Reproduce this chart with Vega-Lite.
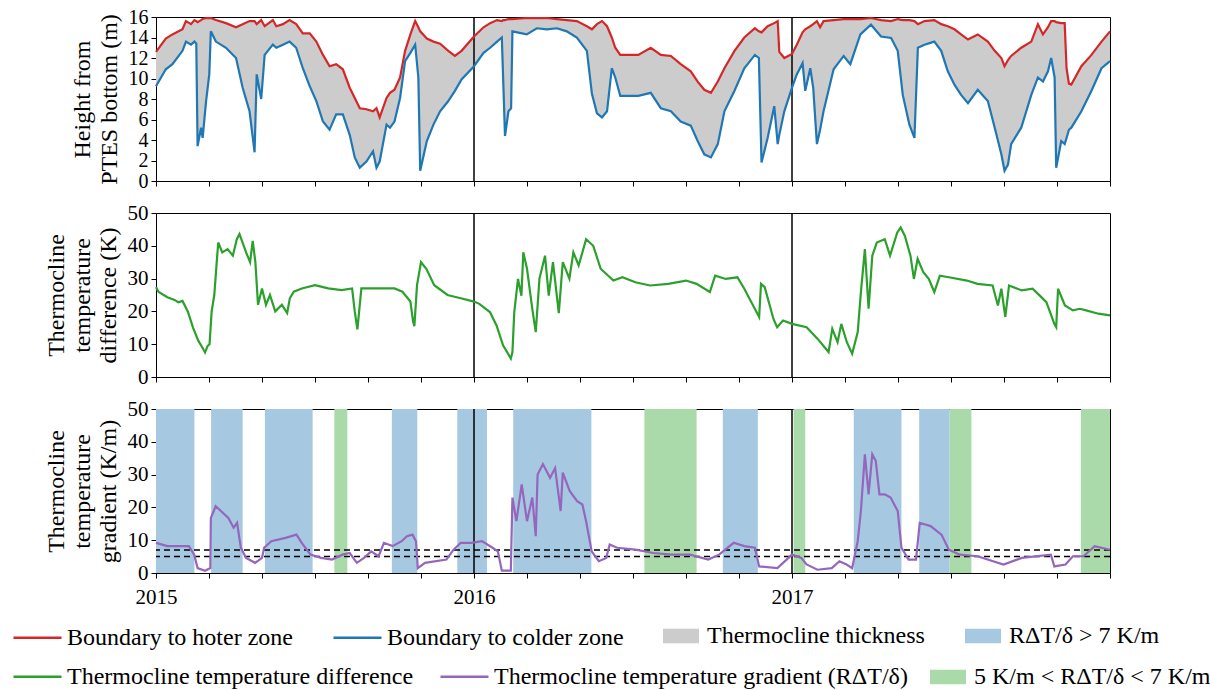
{
  "$schema": "https://vega.github.io/schema/vega-lite/v6.json",
  "background": "white",
  "padding": {"left": 12, "top": 6, "right": 4, "bottom": 0},
  "bounds": "flush",
  "spacing": 32,
  "config": {
    "font": "Liberation Serif",
    "text": {"font": "Liberation Serif"},
    "view": {"stroke": "black", "strokeWidth": 1},
    "axis": {"grid": false, "domainColor": "black", "tickColor": "black", "labelColor": "black", "titleColor": "black", "labelFont": "Liberation Serif", "titleFont": "Liberation Serif", "labelFontSize": 21, "titleFontSize": 24, "titleFontWeight": "normal", "tickSize": 5, "domainWidth": 1, "tickWidth": 1, "zindex": 1, "labelOverlap": false},
    "legend": {"title": null, "orient": "none", "direction": "horizontal", "labelFont": "Liberation Serif", "labelFontSize": 24, "labelColor": "black", "labelLimit": 600, "labelOffset": 8, "columnPadding": 40, "titleFont": "Liberation Serif"}
  },
  "datasets": {
    "thermocline": [
      {"month":0,"hot":12.6,"cold":9.25},{"month":0.37,"hot":13.9,"cold":10.9},{"month":0.62,"hot":14.3,"cold":11.4},{"month":1.0,"hot":14.8,"cold":12.7},{"month":1.13,"hot":15.6,"cold":13.6},{"month":1.32,"hot":15.3,"cold":13.3},{"month":1.45,"hot":15.7,"cold":13.6},{"month":1.52,"hot":15.6,"cold":13.4},{"month":1.57,"hot":15.5,"cold":3.4},{"month":1.7,"hot":15.7,"cold":5.2},{"month":1.76,"hot":15.8,"cold":4.2},{"month":1.89,"hot":15.9,"cold":7.8},{"month":2.01,"hot":15.9,"cold":10.4},{"month":2.07,"hot":15.9,"cold":14.6},{"month":2.26,"hot":15.7,"cold":13.6},{"month":2.64,"hot":15.4,"cold":13.0},{"month":3.02,"hot":15.0,"cold":12.0},{"month":3.27,"hot":15.3,"cold":9.1},{"month":3.53,"hot":15.6,"cold":6.8},{"month":3.72,"hot":15.6,"cold":2.8},{"month":3.8,"hot":15.3,"cold":10.4},{"month":3.97,"hot":15.7,"cold":8.0},{"month":4.1,"hot":15.1,"cold":12.3},{"month":4.41,"hot":15.7,"cold":13.3},{"month":4.54,"hot":15.1,"cold":13.0},{"month":4.79,"hot":15.3,"cold":13.3},{"month":5.04,"hot":15.7,"cold":13.6},{"month":5.29,"hot":15.3,"cold":13.0},{"month":5.54,"hot":14.4,"cold":11.0},{"month":5.8,"hot":14.4,"cold":9.25},{"month":6.05,"hot":13.6,"cold":7.8},{"month":6.3,"hot":12.3,"cold":5.8},{"month":6.55,"hot":11.2,"cold":5.0},{"month":6.8,"hot":11.4,"cold":6.5},{"month":7.05,"hot":10.9,"cold":6.5},{"month":7.31,"hot":9.1,"cold":4.5},{"month":7.5,"hot":8.1,"cold":2.3},{"month":7.69,"hot":7.1,"cold":1.3},{"month":7.94,"hot":7.0,"cold":1.9},{"month":8.19,"hot":6.8,"cold":2.9},{"month":8.32,"hot":7.1,"cold":1.3},{"month":8.44,"hot":6.2,"cold":1.9},{"month":8.7,"hot":8.1,"cold":5.5},{"month":8.83,"hot":8.6,"cold":5.2},{"month":9.0,"hot":8.9,"cold":5.8},{"month":9.21,"hot":10.1,"cold":8.1},{"month":9.4,"hot":12.7,"cold":11.7},{"month":9.6,"hot":14.3,"cold":12.5},{"month":9.78,"hot":15.6,"cold":13.3},{"month":9.9,"hot":15.0,"cold":10.1},{"month":9.97,"hot":14.6,"cold":1.0},{"month":10.22,"hot":13.9,"cold":3.9},{"month":10.47,"hot":13.6,"cold":5.5},{"month":10.72,"hot":13.4,"cold":6.8},{"month":11.03,"hot":12.7,"cold":7.8},{"month":11.28,"hot":12.2,"cold":8.8},{"month":11.53,"hot":12.7,"cold":9.9},{"month":12.0,"hot":14.1,"cold":11.2},{"month":12.36,"hot":15.0,"cold":12.5},{"month":12.61,"hot":15.4,"cold":13.0},{"month":12.87,"hot":15.7,"cold":13.6},{"month":13.05,"hot":15.6,"cold":14.0},{"month":13.1,"hot":15.7,"cold":10.0},{"month":13.17,"hot":15.7,"cold":4.4},{"month":13.3,"hot":15.8,"cold":6.8},{"month":13.4,"hot":15.8,"cold":7.1},{"month":13.45,"hot":15.8,"cold":14.6},{"month":13.99,"hot":15.9,"cold":14.3},{"month":14.37,"hot":15.9,"cold":14.9},{"month":14.75,"hot":15.9,"cold":14.8},{"month":15.13,"hot":15.8,"cold":14.9},{"month":15.5,"hot":15.7,"cold":14.6},{"month":15.88,"hot":15.6,"cold":14.0},{"month":16.26,"hot":15.1,"cold":12.7},{"month":16.45,"hot":14.8,"cold":8.5},{"month":16.64,"hot":15.3,"cold":6.6},{"month":16.83,"hot":15.6,"cold":6.2},{"month":17.02,"hot":15.1,"cold":6.8},{"month":17.2,"hot":14.0,"cold":11.0},{"month":17.33,"hot":13.0,"cold":10.1},{"month":17.52,"hot":12.3,"cold":8.3},{"month":18.2,"hot":12.3,"cold":8.3},{"month":18.67,"hot":13.0,"cold":8.6},{"month":19.05,"hot":12.3,"cold":7.1},{"month":19.43,"hot":12.2,"cold":6.8},{"month":19.8,"hot":11.4,"cold":5.8},{"month":20.18,"hot":10.7,"cold":5.4},{"month":20.44,"hot":9.7,"cold":3.9},{"month":20.69,"hot":8.9,"cold":2.6},{"month":20.94,"hot":8.6,"cold":2.3},{"month":21.2,"hot":9.7,"cold":3.6},{"month":21.45,"hot":11.0,"cold":6.8},{"month":21.83,"hot":12.7,"cold":8.8},{"month":22.2,"hot":14.0,"cold":11.0},{"month":22.6,"hot":14.9,"cold":12.3},{"month":22.75,"hot":14.6,"cold":12.0},{"month":22.85,"hot":14.5,"cold":1.8},{"month":23.08,"hot":15.1,"cold":4.2},{"month":23.33,"hot":15.4,"cold":7.3},{"month":23.46,"hot":15.6,"cold":3.6},{"month":23.52,"hot":12.6,"cold":4.5},{"month":23.71,"hot":12.0,"cold":6.8},{"month":24.0,"hot":12.4,"cold":9.1},{"month":24.18,"hot":13.3,"cold":10.4},{"month":24.4,"hot":14.5,"cold":11.5},{"month":24.5,"hot":14.8,"cold":8.8},{"month":24.69,"hot":15.1,"cold":11.0},{"month":24.8,"hot":15.3,"cold":9.1},{"month":24.94,"hot":15.6,"cold":3.6},{"month":25.06,"hot":15.0,"cold":5.0},{"month":25.19,"hot":15.6,"cold":6.8},{"month":25.57,"hot":15.7,"cold":10.9},{"month":25.95,"hot":15.8,"cold":12.2},{"month":26.2,"hot":15.8,"cold":11.4},{"month":26.58,"hot":15.8,"cold":14.3},{"month":26.98,"hot":15.9,"cold":15.25},{"month":27.36,"hot":15.7,"cold":14.1},{"month":27.74,"hot":15.6,"cold":13.95},{"month":27.99,"hot":15.8,"cold":12.7},{"month":28.18,"hot":15.7,"cold":8.4},{"month":28.43,"hot":15.7,"cold":5.5},{"month":28.62,"hot":15.6,"cold":4.2},{"month":28.75,"hot":15.3,"cold":13.0},{"month":29.0,"hot":15.6,"cold":13.3},{"month":29.37,"hot":15.7,"cold":13.6},{"month":29.63,"hot":15.3,"cold":12.7},{"month":29.88,"hot":15.1,"cold":10.7},{"month":30.13,"hot":14.8,"cold":9.4},{"month":30.38,"hot":14.3,"cold":8.4},{"month":30.64,"hot":13.8,"cold":7.6},{"month":31.01,"hot":14.3,"cold":8.9},{"month":31.39,"hot":13.6,"cold":7.8},{"month":31.65,"hot":12.7,"cold":5.2},{"month":31.9,"hot":12.0,"cold":2.6},{"month":32.02,"hot":11.2,"cold":1.0},{"month":32.15,"hot":11.8,"cold":1.6},{"month":32.27,"hot":12.2,"cold":3.6},{"month":32.65,"hot":13.0,"cold":5.2},{"month":33.03,"hot":13.6,"cold":8.4},{"month":33.28,"hot":15.3,"cold":10.1},{"month":33.47,"hot":14.3,"cold":9.7},{"month":33.66,"hot":15.0,"cold":10.7},{"month":33.78,"hot":15.6,"cold":12.0},{"month":33.91,"hot":15.6,"cold":10.1},{"month":33.97,"hot":15.5,"cold":1.3},{"month":34.16,"hot":15.4,"cold":3.9},{"month":34.29,"hot":15.4,"cold":3.6},{"month":34.36,"hot":11.0,"cold":4.2},{"month":34.45,"hot":9.5,"cold":5.0},{"month":34.54,"hot":9.4,"cold":5.2},{"month":34.92,"hot":11.2,"cold":6.8},{"month":35.3,"hot":12.3,"cold":8.8},{"month":35.68,"hot":13.6,"cold":11.0},{"month":36.0,"hot":14.6,"cold":11.7}
    ],
    "difference": [
      {"month":0,"diff":27.4},{"month":0.1,"diff":25.9},{"month":0.43,"diff":24.3},{"month":0.7,"diff":23.5},{"month":0.84,"diff":22.8},{"month":1.0,"diff":23.2},{"month":1.2,"diff":20},{"month":1.4,"diff":15},{"month":1.6,"diff":11},{"month":1.75,"diff":9},{"month":1.85,"diff":7.5},{"month":1.95,"diff":9.5},{"month":2.02,"diff":10},{"month":2.1,"diff":20},{"month":2.2,"diff":25},{"month":2.3,"diff":36},{"month":2.35,"diff":41},{"month":2.5,"diff":38},{"month":2.7,"diff":39},{"month":2.9,"diff":37},{"month":3.05,"diff":42},{"month":3.15,"diff":43.6},{"month":3.4,"diff":38},{"month":3.55,"diff":35},{"month":3.65,"diff":41.5},{"month":3.75,"diff":35},{"month":3.85,"diff":22},{"month":4.0,"diff":27},{"month":4.15,"diff":22},{"month":4.3,"diff":25},{"month":4.5,"diff":20},{"month":4.75,"diff":22},{"month":4.95,"diff":19.5},{"month":5.05,"diff":24},{"month":5.2,"diff":26},{"month":5.5,"diff":27},{"month":6.0,"diff":28},{"month":6.5,"diff":27},{"month":7.0,"diff":26.5},{"month":7.4,"diff":27},{"month":7.5,"diff":20},{"month":7.6,"diff":14.5},{"month":7.75,"diff":27},{"month":8.25,"diff":27},{"month":9.0,"diff":27},{"month":9.3,"diff":26},{"month":9.6,"diff":23},{"month":9.7,"diff":17},{"month":9.75,"diff":15.5},{"month":9.85,"diff":28},{"month":10.0,"diff":35},{"month":10.2,"diff":33},{"month":10.5,"diff":28},{"month":11.0,"diff":25},{"month":11.5,"diff":24},{"month":12.0,"diff":23},{"month":12.2,"diff":22.3},{"month":12.6,"diff":19.8},{"month":12.85,"diff":15.7},{"month":13.1,"diff":9.6},{"month":13.25,"diff":7.6},{"month":13.39,"diff":5.6},{"month":13.45,"diff":7.6},{"month":13.52,"diff":19.8},{"month":13.66,"diff":29.9},{"month":13.79,"diff":24.8},{"month":13.86,"diff":38},{"month":14.0,"diff":33},{"month":14.2,"diff":20.8},{"month":14.33,"diff":13.7},{"month":14.47,"diff":30},{"month":14.68,"diff":37},{"month":14.82,"diff":24.8},{"month":14.98,"diff":35},{"month":15.2,"diff":19.5},{"month":15.35,"diff":35},{"month":15.6,"diff":30},{"month":15.75,"diff":38},{"month":15.95,"diff":34},{"month":16.23,"diff":42},{"month":16.5,"diff":40},{"month":16.78,"diff":33},{"month":17.26,"diff":29.4},{"month":17.6,"diff":30.4},{"month":18.09,"diff":28.9},{"month":18.64,"diff":27.9},{"month":19.33,"diff":28.4},{"month":20.0,"diff":29.4},{"month":20.4,"diff":28.4},{"month":20.9,"diff":25.9},{"month":21.1,"diff":30.9},{"month":21.5,"diff":29.9},{"month":21.94,"diff":30.4},{"month":22.2,"diff":26.9},{"month":22.76,"diff":18.3},{"month":22.83,"diff":28.4},{"month":22.97,"diff":27.4},{"month":23.3,"diff":17.7},{"month":23.44,"diff":15.2},{"month":23.66,"diff":17.2},{"month":24.0,"diff":16.2},{"month":24.55,"diff":15.2},{"month":24.96,"diff":11.7},{"month":25.38,"diff":7.6},{"month":25.52,"diff":14.7},{"month":25.72,"diff":10.6},{"month":25.86,"diff":16.2},{"month":26.07,"diff":10.6},{"month":26.27,"diff":7.1},{"month":26.48,"diff":13.7},{"month":26.6,"diff":25.9},{"month":26.75,"diff":39},{"month":26.89,"diff":20.8},{"month":27.03,"diff":37},{"month":27.2,"diff":41},{"month":27.5,"diff":42},{"month":27.7,"diff":37},{"month":27.97,"diff":44},{"month":28.1,"diff":45.6},{"month":28.26,"diff":43},{"month":28.47,"diff":37},{"month":28.6,"diff":29.9},{"month":28.74,"diff":36},{"month":28.95,"diff":32},{"month":29.16,"diff":29.9},{"month":29.37,"diff":25.9},{"month":29.58,"diff":30.9},{"month":29.92,"diff":30.4},{"month":30.6,"diff":29.4},{"month":31.0,"diff":28.4},{"month":31.57,"diff":27.9},{"month":31.77,"diff":21.8},{"month":31.9,"diff":26.9},{"month":32.05,"diff":18.3},{"month":32.19,"diff":27.9},{"month":32.67,"diff":26.4},{"month":33.08,"diff":26.9},{"month":33.35,"diff":24.8},{"month":33.6,"diff":22.8},{"month":33.9,"diff":16.2},{"month":33.97,"diff":15.2},{"month":34.04,"diff":26.9},{"month":34.3,"diff":21.8},{"month":34.6,"diff":20.3},{"month":34.86,"diff":20.8},{"month":35.1,"diff":20.3},{"month":35.56,"diff":19.3},{"month":36.0,"diff":18.8}
    ],
    "gradient": [
      {"month":0,"grad":9.2},{"month":0.43,"grad":8.2},{"month":0.84,"grad":8.2},{"month":1.24,"grad":8.2},{"month":1.44,"grad":5.6},{"month":1.57,"grad":1.5},{"month":1.85,"grad":0.7},{"month":2.05,"grad":1.5},{"month":2.07,"grad":16.8},{"month":2.18,"grad":18.9},{"month":2.25,"grad":20.4},{"month":2.45,"grad":18.9},{"month":2.73,"grad":16.8},{"month":2.93,"grad":13.8},{"month":3.06,"grad":15.3},{"month":3.2,"grad":7.7},{"month":3.4,"grad":4.6},{"month":3.74,"grad":3.1},{"month":4.0,"grad":4.6},{"month":4.08,"grad":7.7},{"month":4.35,"grad":9.7},{"month":4.89,"grad":10.7},{"month":5.3,"grad":11.7},{"month":5.5,"grad":9.2},{"month":5.83,"grad":5.6},{"month":6.23,"grad":4.6},{"month":6.64,"grad":4.1},{"month":7.04,"grad":5.6},{"month":7.31,"grad":6.1},{"month":7.58,"grad":3.1},{"month":7.85,"grad":4.6},{"month":8.12,"grad":6.6},{"month":8.4,"grad":5.1},{"month":8.6,"grad":9.2},{"month":8.93,"grad":8.2},{"month":9.27,"grad":9.7},{"month":9.47,"grad":11.2},{"month":9.68,"grad":11.7},{"month":9.81,"grad":9.7},{"month":9.88,"grad":1.5},{"month":10.15,"grad":3.1},{"month":10.96,"grad":4.1},{"month":11.23,"grad":7.1},{"month":11.5,"grad":9.2},{"month":11.9,"grad":9.2},{"month":12.3,"grad":9.7},{"month":12.7,"grad":7.7},{"month":12.9,"grad":6.6},{"month":13.05,"grad":0.7},{"month":13.39,"grad":0.7},{"month":13.45,"grad":23},{"month":13.6,"grad":15.8},{"month":13.8,"grad":27},{"month":14.0,"grad":15.8},{"month":14.2,"grad":23},{"month":14.33,"grad":11.2},{"month":14.4,"grad":30},{"month":14.6,"grad":33.2},{"month":14.87,"grad":29},{"month":15.06,"grad":32},{"month":15.27,"grad":18.9},{"month":15.35,"grad":30.6},{"month":15.61,"grad":25},{"month":15.89,"grad":21.9},{"month":16.09,"grad":20.9},{"month":16.23,"grad":15.8},{"month":16.44,"grad":6.6},{"month":16.71,"grad":3.6},{"month":16.99,"grad":4.6},{"month":17.12,"grad":8.7},{"month":17.4,"grad":7.7},{"month":18.09,"grad":7.1},{"month":18.77,"grad":6.1},{"month":19.46,"grad":5.6},{"month":20.15,"grad":5.6},{"month":20.84,"grad":4.1},{"month":21.25,"grad":5.6},{"month":21.8,"grad":9.2},{"month":22.2,"grad":8.2},{"month":22.6,"grad":7.7},{"month":22.76,"grad":2.0},{"month":23.45,"grad":1.5},{"month":24.0,"grad":5.6},{"month":24.35,"grad":4.6},{"month":24.55,"grad":2.6},{"month":24.96,"grad":1.0},{"month":25.5,"grad":1.5},{"month":25.79,"grad":3.6},{"month":26.06,"grad":2.6},{"month":26.27,"grad":1.5},{"month":26.48,"grad":9.7},{"month":26.6,"grad":18.9},{"month":26.75,"grad":36.2},{"month":26.89,"grad":24},{"month":27.03,"grad":36.2},{"month":27.16,"grad":34.2},{"month":27.3,"grad":24},{"month":27.5,"grad":24},{"month":27.72,"grad":23},{"month":27.99,"grad":18.9},{"month":28.13,"grad":7.7},{"month":28.4,"grad":4.1},{"month":28.68,"grad":4.1},{"month":28.82,"grad":15.3},{"month":29.23,"grad":14.3},{"month":29.64,"grad":11.7},{"month":29.92,"grad":7.1},{"month":30.33,"grad":5.6},{"month":31.0,"grad":5.1},{"month":31.98,"grad":2.6},{"month":32.67,"grad":4.6},{"month":33.77,"grad":5.6},{"month":33.9,"grad":2.0},{"month":34.32,"grad":2.6},{"month":34.6,"grad":5.1},{"month":35.0,"grad":5.1},{"month":35.42,"grad":8.2},{"month":36.0,"grad":7.1}
    ],
    "bands": [
      {"start":0,"end":1.45,"cls":"RΔT/δ > 7 K/m"},{"start":2.08,"end":3.27,"cls":"RΔT/δ > 7 K/m"},{"start":4.11,"end":5.91,"cls":"RΔT/δ > 7 K/m"},{"start":6.73,"end":7.22,"cls":"5 K/m < RΔT/δ < 7 K/m"},{"start":8.9,"end":9.86,"cls":"RΔT/δ > 7 K/m"},{"start":11.37,"end":12.49,"cls":"RΔT/δ > 7 K/m"},{"start":13.48,"end":16.43,"cls":"RΔT/δ > 7 K/m"},{"start":18.43,"end":20.4,"cls":"5 K/m < RΔT/δ < 7 K/m"},{"start":21.39,"end":22.71,"cls":"RΔT/δ > 7 K/m"},{"start":24.06,"end":24.5,"cls":"5 K/m < RΔT/δ < 7 K/m"},{"start":26.33,"end":28.13,"cls":"RΔT/δ > 7 K/m"},{"start":28.8,"end":29.95,"cls":"RΔT/δ > 7 K/m"},{"start":29.95,"end":30.77,"cls":"5 K/m < RΔT/δ < 7 K/m"},{"start":34.9,"end":36.0,"cls":"5 K/m < RΔT/δ < 7 K/m"}
    ],
    "years": [{"month":12},{"month":24}],
    "thresholds": [{"threshold":7},{"threshold":5}]
  },
  "vconcat": [
    {
      "width": 954, "height": 164,
      "layer": [
        {"data": {"name": "thermocline"}, "mark": {"type": "area", "opacity": 1},
         "encoding": {
           "x": {"field": "month", "type": "quantitative", "scale": {"domain": [0, 36], "nice": false, "zero": false}, "axis": {"title": null, "values": [0,1,2,3,4,5,6,7,8,9,10,11,12,13,14,15,16,17,18,19,20,21,22,23,24,25,26,27,28,29,30,31,32,33,34,35,36], "labels": false}},
           "y": {"field": "cold", "type": "quantitative", "scale": {"domain": [0, 16], "nice": false}, "axis": {"title": ["Height from", "PTES bottom (m)"], "values": [0,2,4,6,8,10,12,14,16], "titlePadding": 7, "titleLineHeight": 27, "labelPadding": 3, "labelOverlap": false, "labelFontSize": 20}},
           "y2": {"field": "hot"},
           "fill": {"datum": "Thermocline thickness", "scale": {"domain": ["Thermocline thickness", "RΔT/δ > 7 K/m"], "range": ["#cccccc", "#a6c9e1"]},
             "legend": {"legendX": 507, "legendY": 601, "columnPadding": 40, "symbolType": "M-1,-0.4H1V0.4H-1Z", "symbolSize": 1296, "symbolStrokeWidth": 0, "symbolOpacity": 1}}
         }},
        {"data": {"name": "years"}, "mark": {"type": "rule", "color": "black", "strokeWidth": 1.5},
         "encoding": {"x": {"field": "month", "type": "quantitative"}}},
        {"data": {"name": "thermocline"}, "mark": {"type": "line", "strokeWidth": 2.2},
         "encoding": {"x": {"field": "month", "type": "quantitative"}, "y": {"field": "hot", "type": "quantitative", "axis": {"title": ["Height from", "PTES bottom (m)"], "values": [0,2,4,6,8,10,12,14,16], "titlePadding": 7, "titleLineHeight": 27, "labelPadding": 3, "labelOverlap": false, "labelFontSize": 20}},
           "color": {"datum": "Boundary to hoter zone", "scale": {"domain": ["Boundary to hoter zone", "Boundary to colder zone"], "range": ["#d62728", "#1f77b4"]},
             "legend": {"legendX": -144, "legendY": 595, "columnPadding": 35, "labelOffset": 4, "symbolType": "stroke", "symbolSize": 2304, "symbolStrokeWidth": 2.5}}}},
        {"data": {"name": "thermocline"}, "mark": {"type": "line", "strokeWidth": 2.2},
         "encoding": {"x": {"field": "month", "type": "quantitative"}, "y": {"field": "cold", "type": "quantitative", "axis": {"title": ["Height from", "PTES bottom (m)"], "values": [0,2,4,6,8,10,12,14,16], "titlePadding": 7, "titleLineHeight": 27, "labelPadding": 3, "labelOverlap": false, "labelFontSize": 20}},
           "color": {"datum": "Boundary to colder zone", "scale": {"domain": ["Boundary to hoter zone", "Boundary to colder zone"], "range": ["#d62728", "#1f77b4"]},
             "legend": {"legendX": -144, "legendY": 595, "columnPadding": 35, "labelOffset": 4, "symbolType": "stroke", "symbolSize": 2304, "symbolStrokeWidth": 2.5}}}}
      ]
    },
    {
      "width": 954, "height": 164,
      "layer": [
        {"data": {"name": "years"}, "mark": {"type": "rule", "color": "black", "strokeWidth": 1.5},
         "encoding": {"x": {"field": "month", "type": "quantitative", "scale": {"domain": [0, 36], "nice": false, "zero": false}, "axis": {"title": null, "values": [0,1,2,3,4,5,6,7,8,9,10,11,12,13,14,15,16,17,18,19,20,21,22,23,24,25,26,27,28,29,30,31,32,33,34,35,36], "labels": false}}}},
        {"data": {"name": "difference"}, "mark": {"type": "line", "strokeWidth": 2.2},
         "encoding": {"x": {"field": "month", "type": "quantitative"},
           "y": {"field": "diff", "type": "quantitative", "scale": {"domain": [0, 50], "nice": false}, "axis": {"title": ["Thermocline", "temperature", "difference (K)"], "values": [0,10,20,30,40,50], "titlePadding": 7, "titleLineHeight": 26, "labelPadding": 3, "labelOverlap": false}},
           "stroke": {"datum": "Thermocline temperature difference", "scale": {"domain": ["Thermocline temperature difference", "Thermocline temperature gradient (RΔT/δ)"], "range": ["#2ca02c", "#9467bd"]},
             "legend": {"legendX": -144, "legendY": 634, "columnPadding": 21, "labelOffset": 4, "symbolType": "stroke", "symbolSize": 2304, "symbolStrokeWidth": 2.5}}}}
      ]
    },
    {
      "width": 954, "height": 164,
      "layer": [
        {"data": {"name": "bands"}, "transform": [{"filter": {"field": "cls", "equal": "RΔT/δ > 7 K/m"}}], "mark": {"type": "rect", "opacity": 1},
         "encoding": {"x": {"field": "start", "type": "quantitative", "scale": {"domain": [0, 36], "nice": false, "zero": false}, "axis": {"title": null, "values": [0,1,2,3,4,5,6,7,8,9,10,11,12,13,14,15,16,17,18,19,20,21,22,23,24,25,26,27,28,29,30,31,32,33,34,35,36], "labelExpr": "datum.value == 0 ? '2015' : datum.value == 12 ? '2016' : datum.value == 24 ? '2017' : ''", "labelFlush": false, "labelOverlap": false, "labelPadding": 8, "labelFontSize": 21}},
           "x2": {"field": "end"},
           "fill": {"field": "cls", "type": "nominal", "scale": {"domain": ["Thermocline thickness", "RΔT/δ > 7 K/m"], "range": ["#cccccc", "#a6c9e1"]},
             "legend": {"legendX": 507, "legendY": 601, "columnPadding": 40, "symbolType": "M-1,-0.4H1V0.4H-1Z", "symbolSize": 1296, "symbolStrokeWidth": 0, "symbolOpacity": 1}}}},
        {"data": {"name": "bands"}, "transform": [{"filter": {"field": "cls", "equal": "5 K/m < RΔT/δ < 7 K/m"}}], "mark": {"type": "rect", "fill": "#aad9aa"},
         "encoding": {"x": {"field": "start", "type": "quantitative"},
           "x2": {"field": "end"},
           "opacity": {"field": "cls", "type": "nominal", "scale": {"type": "ordinal", "domain": ["5 K/m < RΔT/δ < 7 K/m"], "range": [1]},
             "legend": {"legendX": 774, "legendY": 642, "symbolType": "M-1,-0.4H1V0.4H-1Z", "symbolSize": 1296, "symbolStrokeWidth": 0, "symbolFillColor": "#aad9aa"}}}},
        {"data": {"name": "years"}, "mark": {"type": "rule", "color": "black", "strokeWidth": 1.5},
         "encoding": {"x": {"field": "month", "type": "quantitative"}}},
        {"data": {"name": "thresholds"}, "mark": {"type": "rule", "color": "black", "strokeWidth": 1.5, "strokeDash": [6, 4]},
         "encoding": {"y": {"field": "threshold", "type": "quantitative", "scale": {"domain": [0, 50], "nice": false}, "axis": {"title": ["Thermocline", "temperature", "gradient (K/m)"], "values": [0,10,20,30,40,50], "titlePadding": 7, "titleLineHeight": 26, "labelPadding": 3, "labelOverlap": false}}}},
        {"data": {"name": "gradient"}, "mark": {"type": "line", "strokeWidth": 2.2},
         "encoding": {"x": {"field": "month", "type": "quantitative"}, "y": {"field": "grad", "type": "quantitative", "axis": {"title": ["Thermocline", "temperature", "gradient (K/m)"], "values": [0,10,20,30,40,50], "titlePadding": 7, "titleLineHeight": 26, "labelPadding": 3, "labelOverlap": false}},
           "stroke": {"datum": "Thermocline temperature gradient (RΔT/δ)", "scale": {"domain": ["Thermocline temperature difference", "Thermocline temperature gradient (RΔT/δ)"], "range": ["#2ca02c", "#9467bd"]},
             "legend": {"legendX": -144, "legendY": 634, "columnPadding": 21, "labelOffset": 4, "symbolType": "stroke", "symbolSize": 2304, "symbolStrokeWidth": 2.5}}}}
      ]
    }
  ]
}
